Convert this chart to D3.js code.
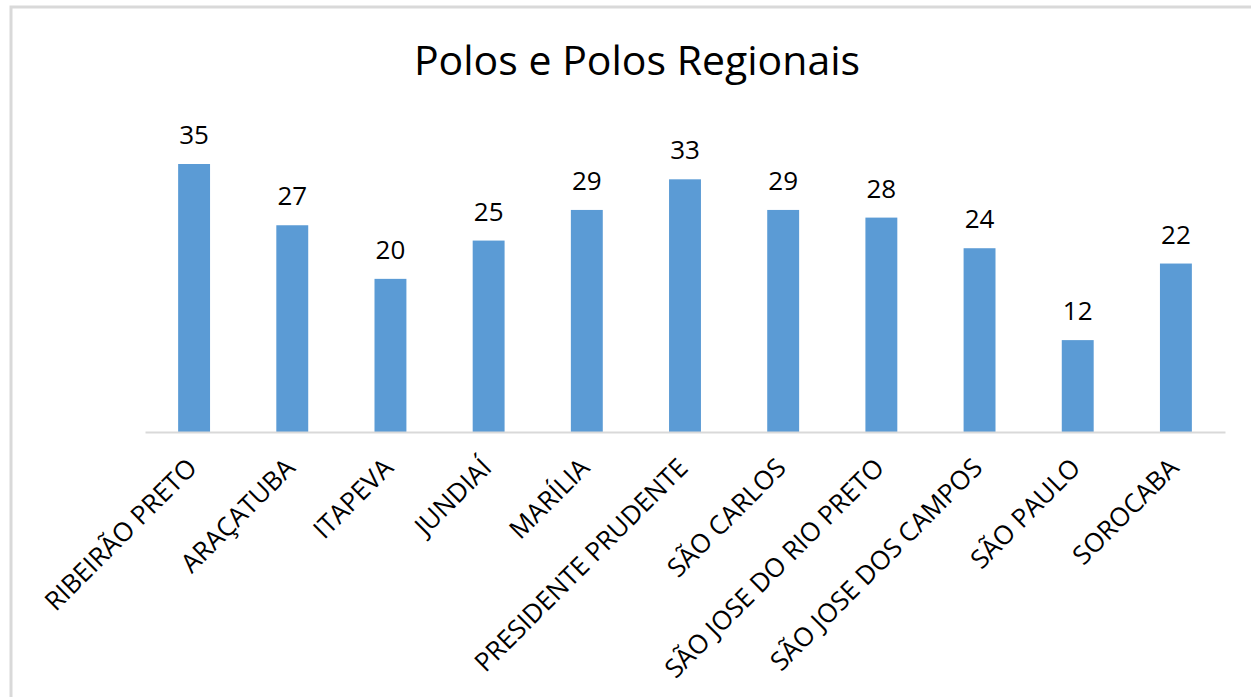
<!DOCTYPE html>
<html>
<head>
<meta charset="utf-8">
<script src="https://cdn.jsdelivr.net/npm/d3@7"></script>
<style>
  body { margin: 0; background: #fff; }
  text { font-family: "Open Sans", "DejaVu Sans", sans-serif; fill: #000; }
</style>
</head>
<body>
<div id="chart"></div>
<script>
// data
var categories = ["RIBEIRÃO PRETO", "ARAÇATUBA", "ITAPEVA", "JUNDIAÍ", "MARÍLIA",
    "PRESIDENTE PRUDENTE", "SÃO CARLOS", "SÃO JOSE DO RIO PRETO",
    "SÃO JOSE DOS CAMPOS", "SÃO PAULO", "SOROCABA"];
var values = [35, 27, 20, 25, 29, 33, 29, 28, 24, 12, 22];

var W = 1251, H = 697;
var margin = {top: 164, right: 26, bottom: 265, left: 145};
var width = W - margin.left - margin.right,
    height = H - margin.top - margin.bottom;

var svg = d3.select("#chart").append("svg")
    .attr("width", W)
    .attr("height", H);

// chart frame
svg.append("rect")
    .attr("x", 11).attr("y", 7)
    .attr("width", W + 20).attr("height", H + 20)
    .attr("fill", "none")
    .attr("stroke", "#d9d9d9")
    .attr("stroke-width", 3);

svg.append("text")
    .attr("x", 637).attr("y", 75)
    .attr("text-anchor", "middle")
    .style("font-size", "41px")
    .text("Polos e Polos Regionais");

var g = svg.append("g")
    .attr("transform", "translate(" + margin.left + "," + margin.top + ")");

var x = d3.scaleBand()
    .domain(categories)
    .range([0, width])
    .paddingInner(0.675)
    .paddingOuter(0.3375);

var y = d3.scaleLinear()
    .domain([0, 35])
    .range([height, 0]);

g.selectAll(".bar")
    .data(values)
    .enter().append("rect")
    .attr("class", "bar")
    .attr("x", function(d, i) { return x(categories[i]); })
    .attr("y", function(d) { return y(d); })
    .attr("width", x.bandwidth())
    .attr("height", function(d) { return height - y(d); })
    .attr("fill", "#5b9bd5");

g.selectAll(".val")
    .data(values)
    .enter().append("text")
    .attr("class", "val")
    .attr("x", function(d, i) { return x(categories[i]) + x.bandwidth() / 2; })
    .attr("y", function(d) { return y(d) - 20; })
    .attr("text-anchor", "middle")
    .style("font-size", "26px")
    .text(function(d) { return d; });

var xAxis = g.append("g")
    .attr("transform", "translate(0," + height + ")")
    .call(d3.axisBottom(x).tickSize(0).tickPadding(0));

xAxis.select(".domain")
    .attr("stroke", "#d9d9d9")
    .attr("stroke-width", 2);

xAxis.selectAll("text")
    .style("font-size", "26px")
    .style("font-family", "'Open Sans', sans-serif")
    .attr("fill", "#000")
    .attr("text-anchor", "end")
    .attr("dy", "0.35em")
    .attr("transform", "translate(-2,31) rotate(-45)");
</script>
</body>
</html>
